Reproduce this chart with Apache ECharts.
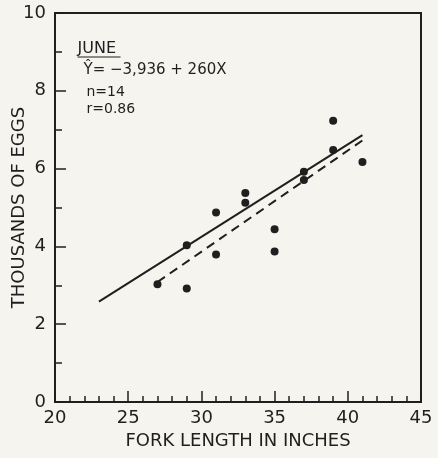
<!DOCTYPE html>
<html>
<head>
<meta charset="utf-8">
<script src="https://cdn.jsdelivr.net/npm/echarts@6/dist/echarts.min.js"></script>
<style>
  html, body { margin: 0; padding: 0; background: #f6f4ee; }
  #chart { width: 438px; height: 458px; }
</style>
</head>
<body>
<div id="chart"></div>
<script>
// Fork length (inches) and egg count (thousands) for the June sample
const forkLength = [27, 29, 29, 31, 31, 33, 33, 35, 35, 37, 37, 39, 39, 41];
const eggsThousands = [3.03, 2.92, 4.03, 4.87, 3.79, 5.37, 5.12, 4.44, 3.87, 5.92, 5.71, 7.23, 6.48, 6.17];

// Solid reference line endpoints
const solidX = [23, 41];
const solidY = [2.58, 6.86];

// June regression: Y = -3,936 + 260X (eggs), shown in thousands
const juneX = [27, 41];
const juneY = [3.084, 6.724];

const xTicks = [20, 25, 30, 35, 40, 45];
const yTicks = [0, 2, 4, 6, 8, 10];

const ink = '#1f1f1f';
const font = 'DejaVu Sans';

const chart = echarts.init(document.getElementById('chart'), null, { renderer: 'canvas' });

const pairs = (xs, ys) => xs.map((x, i) => [x, ys[i]]);

chart.setOption({
  backgroundColor: '#f6f4ee',
  animation: false,
  grid: {
    left: 55, right: 17, top: 13, bottom: 56,
    outerBoundsMode: 'none', containLabel: false,
    show: true, borderColor: ink, borderWidth: 2, backgroundColor: 'transparent'
  },
  xAxis: {
    type: 'value',
    min: xTicks[0], max: xTicks[xTicks.length - 1], interval: 5,
    name: 'FORK LENGTH IN INCHES',
    nameLocation: 'middle', nameGap: 30, nameMoveOverlap: false,
    nameTextStyle: { fontFamily: font, fontSize: 18, color: ink },
    axisLine: { show: true, lineStyle: { color: ink, width: 2 } },
    axisTick: { show: true, inside: true, length: 11, lineStyle: { color: ink, width: 1.5 } },
    minorTick: { show: true, splitNumber: 5, length: 6, lineStyle: { color: ink, width: 1.5 } },
    axisLabel: { fontFamily: font, fontSize: 18, color: ink, margin: 7 },
    splitLine: { show: false }
  },
  yAxis: {
    type: 'value',
    min: yTicks[0], max: yTicks[yTicks.length - 1], interval: 2,
    name: 'THOUSANDS OF EGGS',
    nameLocation: 'middle', nameGap: 27, nameMoveOverlap: false,
    nameTextStyle: { fontFamily: font, fontSize: 18, color: ink },
    axisLine: { show: true, lineStyle: { color: ink, width: 2 } },
    axisTick: { show: true, inside: true, length: 11, lineStyle: { color: ink, width: 1.5 } },
    minorTick: { show: true, splitNumber: 2, length: 7, lineStyle: { color: ink, width: 1.5 } },
    axisLabel: { fontFamily: font, fontSize: 18, color: ink, margin: 9 },
    splitLine: { show: false }
  },
  series: [
    {
      type: 'line',
      data: pairs(solidX, solidY),
      symbol: 'none',
      lineStyle: { color: ink, width: 2 },
      z: 2
    },
    {
      type: 'line',
      data: pairs(juneX, juneY),
      symbol: 'none',
      lineStyle: { color: ink, width: 2, type: [9, 6] },
      z: 2
    },
    {
      type: 'scatter',
      data: pairs(forkLength, eggsThousands),
      symbol: 'circle',
      symbolSize: 8,
      itemStyle: { color: ink, opacity: 1 },
      z: 3
    }
  ],
  graphic: [
    {
      type: 'group',
      left: 75, top: 41,
      children: [
        { type: 'text', x: 0, y: 0, style: { text: 'JUNE', font: '16px "DejaVu Sans"', fill: ink } },
        { type: 'line', shape: { x1: 0, y1: 16, x2: 43, y2: 16 }, style: { stroke: ink, lineWidth: 1.2 } },
        { type: 'text', x: 6, y: 22, style: { text: 'Ŷ= −3,936 + 260X', font: '15px "DejaVu Sans"', fill: ink } },
        { type: 'text', x: 9, y: 44, style: { text: 'n=14', font: '14px "DejaVu Sans"', fill: ink } },
        { type: 'text', x: 9, y: 61, style: { text: 'r=0.86', font: '14px "DejaVu Sans"', fill: ink } }
      ]
    }
  ]
});
</script>
</body>
</html>
